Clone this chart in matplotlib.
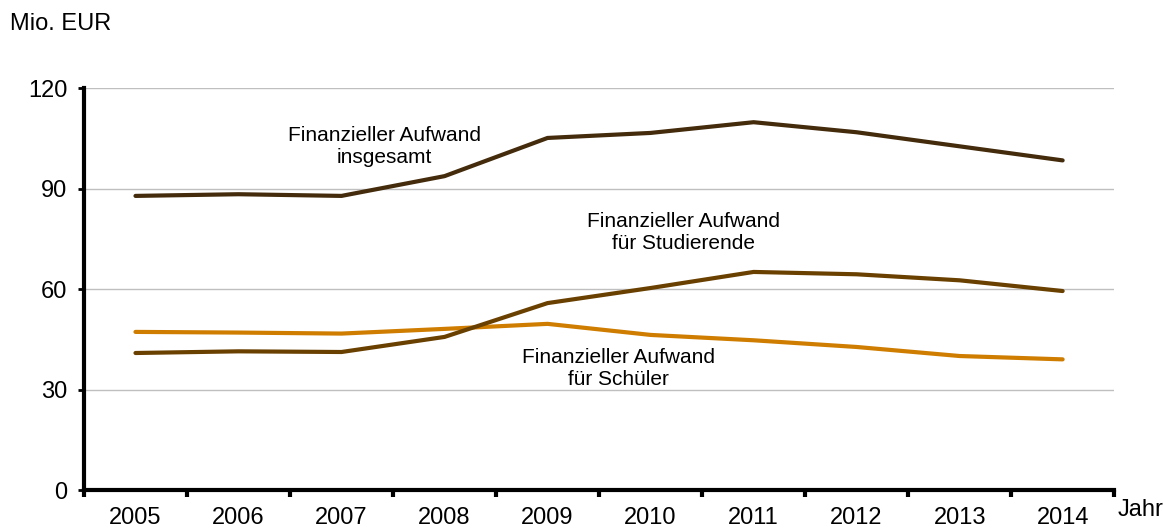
import matplotlib.pyplot as plt
import numpy as np

plt.rcParams['font.family'] = ['Liberation Sans', 'DejaVu Sans']

# Daten
jahre = ['2005', '2006', '2007', '2008', '2009', '2010', '2011', '2012', '2013', '2014']
insgesamt = [87.8, 88.3, 87.8, 93.7, 105.1, 106.6, 109.8, 106.8, 102.6, 98.4]
studierende = [40.9, 41.4, 41.2, 45.7, 55.8, 60.3, 65.1, 64.4, 62.6, 59.4]
schueler = [47.2, 47.0, 46.7, 48.1, 49.6, 46.3, 44.7, 42.7, 40.0, 39.0]
y_ticks = [0, 30, 60, 90, 120]

fig = plt.figure(figsize=(11.63, 5.31), dpi=100)
ax = fig.add_axes([0.0722, 0.0772, 0.8858, 0.7570])

x = np.arange(len(jahre))
ax.plot(x, schueler, color='#CF7D00', lw=3, solid_capstyle='round', zorder=3)
ax.plot(x, studierende, color='#6A4000', lw=3, solid_capstyle='round', zorder=3)
ax.plot(x, insgesamt, color='#432B0C', lw=3, solid_capstyle='round', zorder=3)

ax.set_xlim(-0.5, len(jahre) - 0.5)
ax.set_ylim(0, 120)
ax.set_yticks(y_ticks)
ax.yaxis.grid(True, color='#BFBFBF', lw=1)
ax.set_axisbelow(True)

ax.set_xticks(x)
ax.set_xticklabels(jahre)
ax.set_xticks(np.arange(-0.5, len(jahre)), minor=True)
ax.tick_params(axis='x', which='major', length=0, pad=12, labelsize=17)
ax.tick_params(axis='x', which='minor', length=5, width=3, direction='out')
ax.tick_params(axis='y', length=4, width=2, labelsize=17, pad=8)

for s in ['top', 'right']:
    ax.spines[s].set_visible(False)
ax.spines['left'].set_linewidth(3)
ax.spines['bottom'].set_linewidth(3)

fig.text(0.009, 0.955, 'Mio. EUR', fontsize=17, va='center', ha='left')
fig.text(0.961, 0.04, 'Jahr', fontsize=17, va='center', ha='left')

ax.text(2.42, 102.4, 'Finanzieller Aufwand\ninsgesamt', fontsize=15, ha='center', va='center', linespacing=1.2)
ax.text(5.32, 77.0, 'Finanzieller Aufwand\nfür Studierende', fontsize=15, ha='center', va='center', linespacing=1.2)
ax.text(4.69, 36.4, 'Finanzieller Aufwand\nfür Schüler', fontsize=15, ha='center', va='center', linespacing=1.2)

fig.savefig('out.png', dpi=100)
